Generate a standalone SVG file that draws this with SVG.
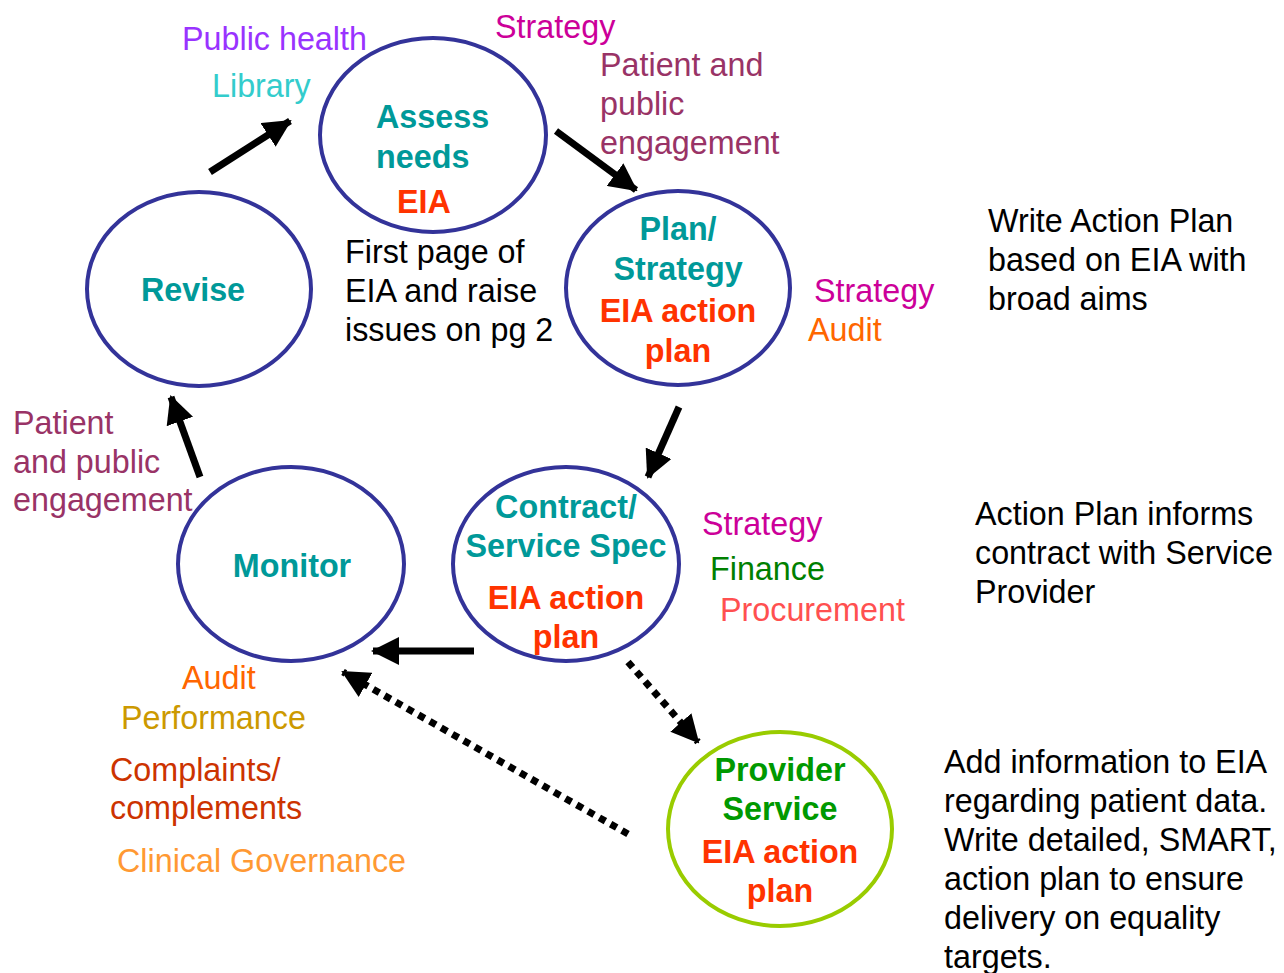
<svg xmlns="http://www.w3.org/2000/svg" width="1284" height="973" viewBox="0 0 1284 973">
<defs>
<marker id="ah" markerUnits="userSpaceOnUse" markerWidth="28" markerHeight="28" viewBox="0 0 28 28" refX="26" refY="14" orient="auto">
<path d="M0,0 L28,14 L0,28 Z" fill="#000"/>
</marker>
</defs>
<style>
text{font-family:"Liberation Sans",Arial,sans-serif;font-size:32.3px}
.b{font-weight:bold}
.c{text-anchor:middle}
.teal{fill:#009999}
.red{fill:#ff3300}
.grn{fill:#009900}
.node{fill:#fff;stroke:#333399;stroke-width:4}
.pnode{fill:#fff;stroke:#99cc00;stroke-width:4}
.arr{stroke:#000;stroke-width:7;fill:none;marker-end:url(#ah)}
.dot{stroke:#000;stroke-width:7;fill:none;stroke-dasharray:7 6;marker-end:url(#ah)}
</style>
<rect width="1284" height="973" fill="#fff"/>
<g id="connectors">
<line class="arr" x1="210" y1="172" x2="290" y2="121"/>
<line class="arr" x1="556" y1="131" x2="636" y2="190"/>
<line class="arr" x1="679" y1="407" x2="648" y2="477"/>
<line class="arr" x1="474" y1="651" x2="373" y2="651"/>
<line class="arr" x1="200" y1="477" x2="171" y2="397"/>
<line class="dot" x1="628" y1="662" x2="698" y2="742"/>
<line class="dot" x1="628" y1="834" x2="343" y2="672"/>
</g>
<g id="assess">
<ellipse class="node" cx="433" cy="135" rx="113" ry="97"/>
<text class="b teal" x="376" y="128">Assess</text>
<text class="b teal" x="376" y="168">needs</text>
<text class="b red c" x="424" y="213">EIA</text>
</g>
<g id="revise">
<ellipse class="node" cx="199" cy="289" rx="112" ry="97"/>
<text class="b teal c" x="193" y="301">Revise</text>
</g>
<g id="plan">
<ellipse class="node" cx="678" cy="288" rx="112" ry="97"/>
<text class="b teal c" x="678" y="240">Plan/</text>
<text class="b teal c" x="678" y="280">Strategy</text>
<text class="b red c" x="678" y="322">EIA action</text>
<text class="b red c" x="678" y="362">plan</text>
</g>
<g id="monitor">
<ellipse class="node" cx="291" cy="564" rx="113" ry="97"/>
<text class="b teal c" x="292" y="577">Monitor</text>
</g>
<g id="contract">
<ellipse class="node" cx="566" cy="564" rx="113" ry="97"/>
<text class="b teal c" x="566" y="518">Contract/</text>
<text class="b teal c" x="566" y="557">Service Spec</text>
<text class="b red c" x="566" y="609">EIA action</text>
<text class="b red c" x="566" y="648">plan</text>
</g>
<g id="provider">
<ellipse class="pnode" cx="780" cy="829" rx="112" ry="97"/>
<text class="b grn c" x="780" y="781">Provider</text>
<text class="b grn c" x="780" y="820">Service</text>
<text class="b red c" x="780" y="863">EIA action</text>
<text class="b red c" x="780" y="902">plan</text>
</g>
<g id="labels">
<text x="182" y="50" fill="#9933ff">Public health</text>
<text x="212" y="97" fill="#33cccc">Library</text>
<text x="495" y="38" fill="#cc0099">Strategy</text>
<text x="600" y="76" fill="#993366">Patient and</text>
<text x="600" y="115" fill="#993366">public</text>
<text x="600" y="154" fill="#993366">engagement</text>
<text x="345" y="263" fill="#000">First page of</text>
<text x="345" y="302" fill="#000">EIA and raise</text>
<text x="345" y="341" fill="#000">issues on pg 2</text>
<text x="814" y="302" fill="#cc0099">Strategy</text>
<text x="808" y="341" fill="#ff6600">Audit</text>
<text x="988" y="232" fill="#000">Write Action Plan</text>
<text x="988" y="271" fill="#000">based on EIA with</text>
<text x="988" y="310" fill="#000">broad aims</text>
<text x="13" y="434" fill="#993366">Patient</text>
<text x="13" y="473" fill="#993366">and public</text>
<text x="13" y="511" fill="#993366">engagement</text>
<text x="702" y="535" fill="#cc0099">Strategy</text>
<text x="710" y="580" fill="#008000">Finance</text>
<text x="720" y="621" fill="#ff5050">Procurement</text>
<text x="975" y="525" fill="#000">Action Plan informs</text>
<text x="975" y="564" fill="#000">contract with Service</text>
<text x="975" y="603" fill="#000">Provider</text>
<text x="182" y="689" fill="#ff6600">Audit</text>
<text x="121" y="729" fill="#cc9900">Performance</text>
<text x="110" y="781" fill="#cc3300">Complaints/</text>
<text x="110" y="819" fill="#cc3300">complements</text>
<text x="117" y="872" fill="#ff9933">Clinical Governance</text>
<text x="944" y="773" fill="#000">Add information to EIA</text>
<text x="944" y="812" fill="#000">regarding patient data.</text>
<text x="944" y="851" fill="#000">Write detailed, SMART,</text>
<text x="944" y="890" fill="#000">action plan to ensure</text>
<text x="944" y="929" fill="#000">delivery on equality</text>
<text x="944" y="968" fill="#000">targets.</text>
</g>
</svg>
